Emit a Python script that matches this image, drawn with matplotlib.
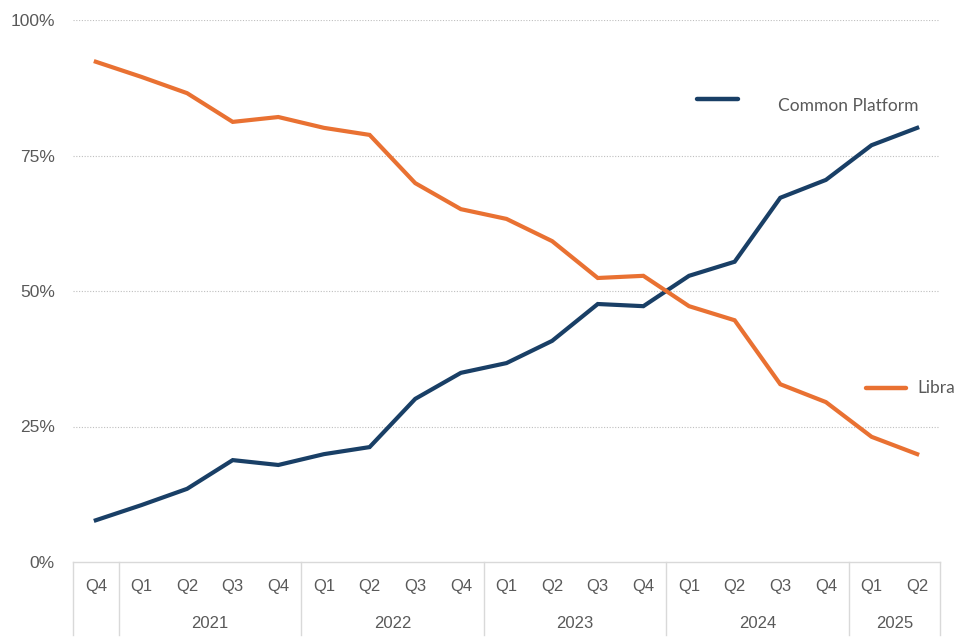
import matplotlib.pyplot as plt
from matplotlib.lines import Line2D

quarters = ['Q4', 'Q1', 'Q2', 'Q3', 'Q4', 'Q1', 'Q2', 'Q3', 'Q4', 'Q1',
            'Q2', 'Q3', 'Q4', 'Q1', 'Q2', 'Q3', 'Q4', 'Q1', 'Q2']
years = ['2021', '2022', '2023', '2024', '2025']
year_counts = [4, 4, 4, 4, 2]
common_platform = [7.7, 10.5, 13.5, 18.8, 17.9, 19.9, 21.2, 30.1, 34.9, 36.7,
                   40.8, 47.6, 47.2, 52.8, 55.4, 67.2, 70.5, 76.9, 80.1]
libra = [92.3, 89.5, 86.5, 81.2, 82.1, 80.1, 78.8, 69.9, 65.1, 63.3,
         59.2, 52.4, 52.8, 47.2, 44.6, 32.8, 29.5, 23.1, 19.9]

navy = '#193F66'
orange = '#E97132'
grey = '#595959'
sep = '#D9D9D9'

plt.rcParams['font.family'] = ['Liberation Sans', 'DejaVu Sans']

fig = plt.figure(figsize=(9.6, 6.4), dpi=100)
ax = fig.add_axes([73/960, 1-562/640, (940-73)/960, (562-20)/640])

x = list(range(len(quarters)))
ax.plot(x, common_platform, color=navy, lw=3, solid_joinstyle='miter')
ax.plot(x, libra, color=orange, lw=3, solid_joinstyle='miter')

ax.set_xlim(-0.5, len(quarters) - 0.5)
ax.set_ylim(0, 100)
ax.set_yticks([0, 25, 50, 75, 100])
ax.set_yticklabels(['0%', '25%', '50%', '75%', '100%'])
ax.tick_params(axis='y', length=0, pad=13, labelsize=12.5, labelcolor=grey)
for v in [25, 50, 75, 100]:
    ax.axhline(v, color='#BFBFBF', lw=0.8, ls=(0, (1, 1.5)), zorder=0)

for s in ['top', 'right', 'left']:
    ax.spines[s].set_visible(False)
ax.spines['bottom'].set_color(sep)
ax.spines['bottom'].set_linewidth(1)
ax.set_xticks([])

# category axis: quarter labels, year labels and separators
trans = ax.get_xaxis_transform()
for i, q in enumerate(quarters):
    ax.text(i, -0.046, q, transform=trans, ha='center', va='center',
            fontsize=12, color=grey)
bounds = [-0.5, 0.5]
start = 0.5
for n in year_counts:
    start += n
    bounds.append(start)
for b in bounds:
    ax.add_line(Line2D([b, b], [0, -0.135], transform=trans, color=sep,
                       lw=1, clip_on=False))
for k, yr in enumerate(years):
    mid = (bounds[k + 1] + bounds[k + 2]) / 2
    ax.text(mid, -0.113, yr, transform=trans, ha='center', va='center',
            fontsize=12, color=grey)

# series labels
fig.add_artist(Line2D([697/960, 738/960], [1-99/640, 1-99/640], color=navy,
                      lw=3.2, solid_capstyle='round'))
fig.text(778/960, 1-106/640, 'Common Platform', ha='left', va='center',
         fontsize=12.5, color=grey, family=['Lato', 'DejaVu Sans'])
fig.add_artist(Line2D([866/960, 906/960], [1-388/640, 1-388/640], color=orange,
                      lw=3.2, solid_capstyle='round'))
fig.text(917/960, 1-388/640, 'Libra', ha='left', va='center',
         fontsize=12.5, color=grey, family=['Lato', 'DejaVu Sans'])

fig.savefig('out.png', dpi=100)
